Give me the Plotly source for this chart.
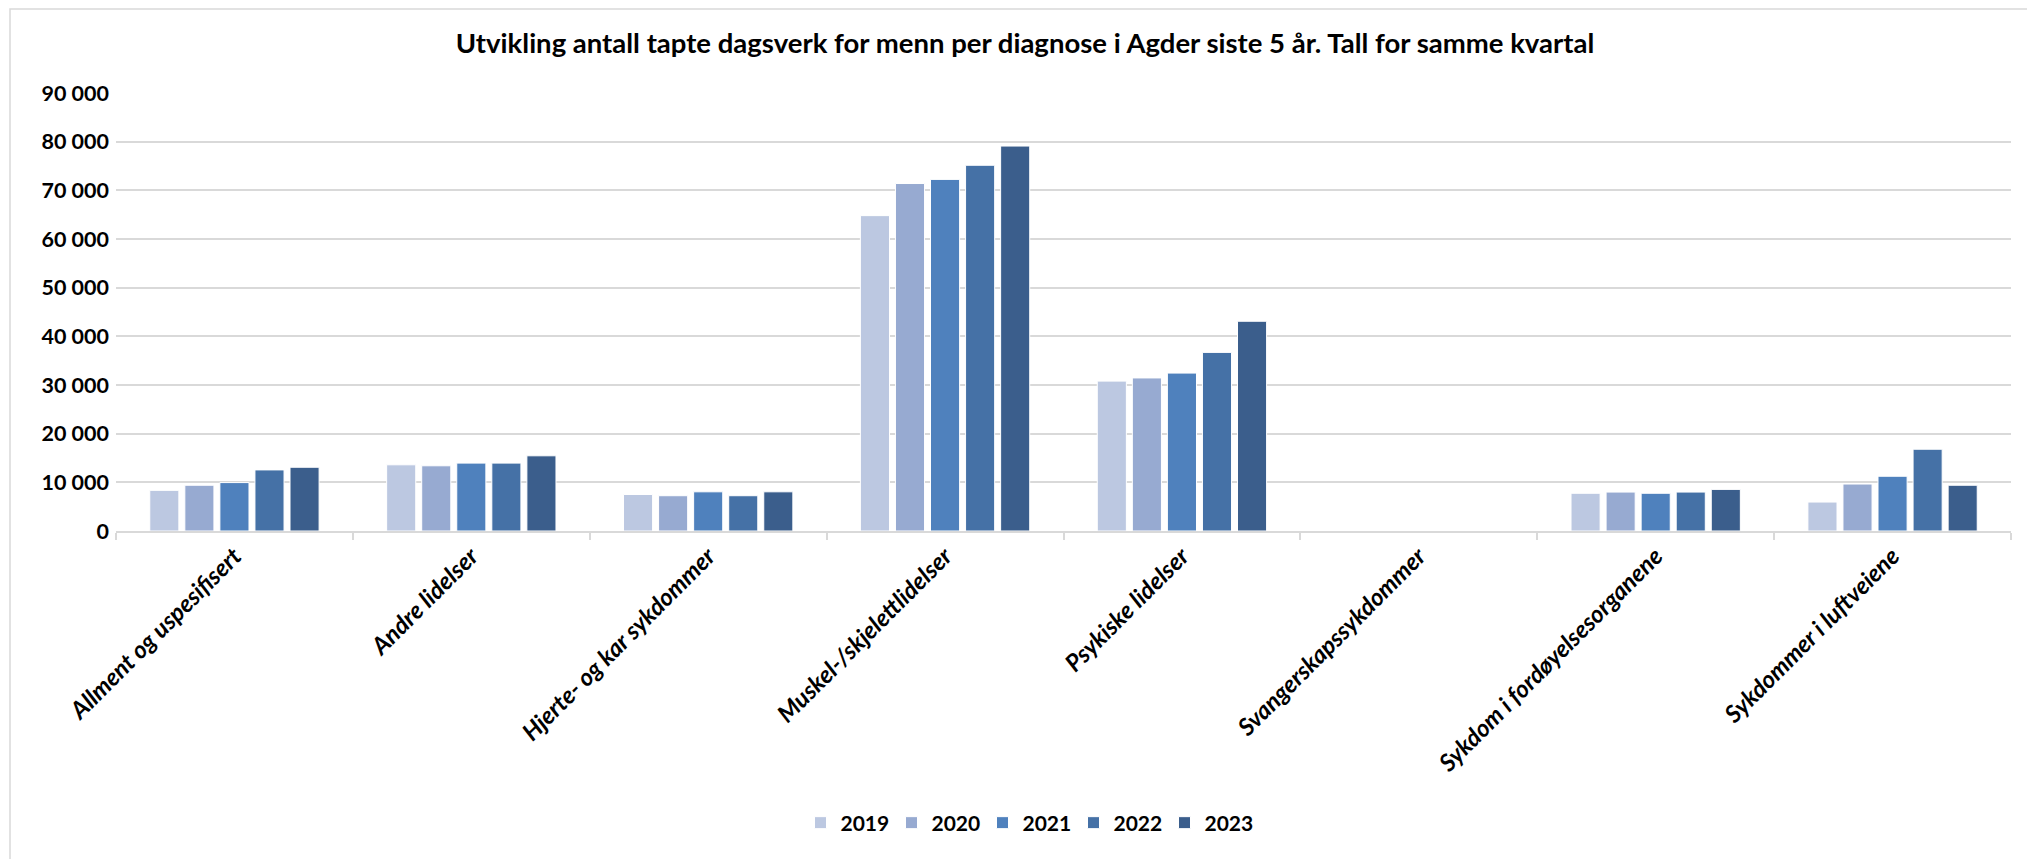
import plotly.graph_objects as go

categories = [
    "Allment og uspesifisert",
    "Andre lidelser",
    "Hjerte- og kar sykdommer",
    "Muskel-/skjelettlidelser",
    "Psykiske lidelser",
    "Svangerskapssykdommer",
    "Sykdom i fordøyelsesorganene",
    "Sykdommer i luftveiene",
]
years = ["2019", "2020", "2021", "2022", "2023"]

v2019 = [8350, 13600, 7500, 64800, 30800, None, 7750, 5950]
v2020 = [9400, 13400, 7250, 71400, 31450, None, 8000, 9650]
v2021 = [9950, 13950, 8050, 72250, 32450, None, 7750, 11250]
v2022 = [12550, 13950, 7250, 75150, 36700, None, 8000, 16800]
v2023 = [13100, 15450, 8050, 79100, 43100, None, 8550, 9400]
series = [v2019, v2020, v2021, v2022, v2023]

colors = ["#BCC8E1", "#97AAD1", "#4F81BD", "#4571A6", "#3B5E8C"]

title_text = "Utvikling antall tapte dagsverk for menn per diagnose i Agder siste 5 år. Tall for samme kvartal"

W, H = 2035, 859
# page body has an 8px margin; positions below are in figure pixels
L, R, T, B = 108, 32, 85, 336
pw = W - L - R
ph = H - T - B

fig = go.Figure()
for y, vals, c in zip(years, series, colors):
    fig.add_trace(go.Bar(
        name=y, x=categories, y=vals,
        marker=dict(color=c, line=dict(color="#FFFFFF", width=1)),
    ))

font_family = "Lato"

fig.update_layout(
    width=W, height=H,
    margin=dict(l=L, r=R, t=T, b=B, pad=0),
    paper_bgcolor="white", plot_bgcolor="white",
    separators=", ",
    barmode="group", bargap=0.26, bargroupgap=0.17,
    font=dict(family=font_family, color="#000000"),
    title=dict(
        text="<b>" + title_text + "</b>",
        font=dict(family=font_family, size=27.5, color="#000000"),
        x=(1017 - L) / pw, xref="paper", xanchor="center",
        y=1 - 35 / H, yref="container", yanchor="middle",
    ),
    legend=dict(
        orientation="h",
        x=(1020 - L) / pw, xanchor="center",
        y=(ph - (815 - T)) / ph, yanchor="middle",
        font=dict(family=font_family, size=21, color="#000000", weight="bold"),
        traceorder="normal",
        entrywidth=46, entrywidthmode="pixels",
    ),
    xaxis=dict(
        type="category",
        showgrid=False,
        showline=True, linecolor="#D9D9D9", linewidth=1.5,
        ticks="outside", tickson="boundaries", ticklen=7, tickcolor="#D9D9D9", tickwidth=1.5,
        tickangle=-45,
        tickfont=dict(family=font_family, size=24, color="#000000", weight="bold", style="italic"),
    ),
    yaxis=dict(
        range=[0, 90000], dtick=10000, tickformat=",d",
        showgrid=True, gridcolor="#D9D9D9", gridwidth=1.5,
        zeroline=False, showline=False,
        ticks="", ticklabelstandoff=6,
        tickfont=dict(family=font_family, size=21.5, color="#000000", weight="bold"),
    ),
)

# chart frame (light gray border)
fig.add_shape(
    type="rect", xref="paper", yref="paper",
    x0=(2 - L) / pw, x1=(W + 10 - L) / pw,
    y0=-(H + 10 - (T + ph)) / ph, y1=(ph + (T - 1)) / ph,
    line=dict(color="#D9D9D9", width=1.5), fillcolor="rgba(0,0,0,0)", layer="below",
)

fig.write_html("out.html")
